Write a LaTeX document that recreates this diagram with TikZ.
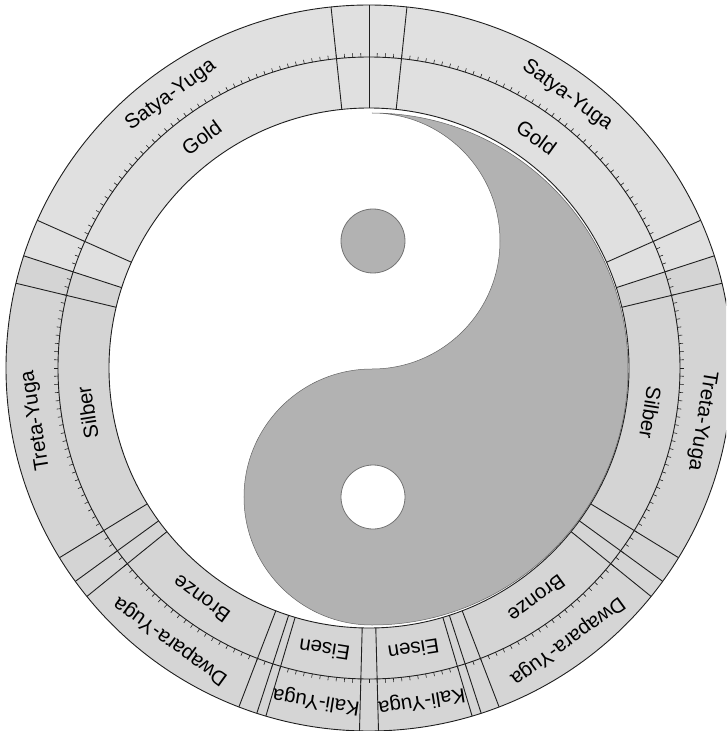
\documentclass[tikz,border=0pt]{standalone}
\usepackage{fontspec}
\setmainfont{Liberation Sans}
\usetikzlibrary{calc}
\definecolor{satya}{gray}{0.88}
\definecolor{treta}{gray}{0.83}
\definecolor{dwapara}{gray}{0.835}
\definecolor{kali}{gray}{0.835}
\definecolor{yin}{gray}{0.70}
\definecolor{ringline}{gray}{0.12}
\def\rIn{260pt}
\def\rMid{311pt}
\def\rOut{363pt}
\tikzset{
  ringedge/.style={draw=ringline, line width=0.9pt},
  tickmark/.style={draw=ringline, line width=0.6pt},
  yugalabel/.style={font=\fontsize{20.5}{21}\selectfont, inner sep=0pt, text=black},
  metallabel/.style={font=\fontsize{20.5}{21}\selectfont, inner sep=0pt, text=black},
  yinpart/.style={fill=yin, draw=black!60, line width=0.5pt},
  dotmark/.style={draw=black!55, line width=0.8pt},
}
% one coloured piece of the ring, between two polar angles
\newcommand{\ringsector}[3]{%
  \fill[#1] (#2:\rIn) arc[start angle=#2, end angle=#3, radius=\rIn]
    -- (#3:\rOut) arc[start angle=#3, end angle=#2, radius=\rOut] -- cycle;}

\begin{document}
\begin{tikzpicture}
\useasboundingbox (-369pt,-363pt) rectangle (357pt,368pt);
\clip (-369pt,-363pt) rectangle (357pt,368pt);

% ring pieces
\ringsector{satya}{18}{162}
\ringsector{treta}{-36}{18}
\ringsector{treta}{162}{216}
\ringsector{dwapara}{-72}{-36}
\ringsector{dwapara}{216}{252}
\ringsector{kali}{252}{288}

% yin-yang
\coordinate (yy) at (3pt,-1pt);
\fill[white] (yy) circle[radius=256pt];
\draw[yinpart] ($(yy)+(0,256pt)$) arc[start angle=90, end angle=-90, radius=256pt]
  arc[start angle=270, end angle=90, radius=128pt]
  arc[start angle=-90, end angle=90, radius=128pt] -- cycle;
\node[circle, dotmark, fill=yin, minimum size=64pt, inner sep=0pt] (yang dot) at ($(yy)+(1pt,128pt)$) {};
\node[circle, dotmark, fill=white, minimum size=64pt, inner sep=0pt] (yin dot) at ($(yy)+(1pt,-128pt)$) {};

% circles and ticks
\draw[ringedge] (0,0) circle[radius=\rOut];
\draw[ringedge] (0,0) circle[radius=\rMid];
\draw[ringedge] (0,0) circle[radius=\rIn];
\foreach \i in {0,...,239}
  \draw[tickmark] (\i*1.5:\rMid) -- (\i*1.5:315pt);

% borders of yugas and sandhyas
\foreach \a in {0,6,66,72,76.5,121.5,126,129,159,162,163.5,178.5} {
  \draw[ringedge] (90-\a:\rIn) -- (90-\a:\rOut);
  \draw[ringedge] (90+\a:\rIn) -- (90+\a:\rOut);
}

% labels
\foreach \off/\yuga/\metal [count=\k] in
  {36/Satya-Yuga/Gold, 99/Treta-Yuga/Silber, 144/Dwapara-Yuga/Bronze, 171/Kali-Yuga/Eisen} {
  \node[yugalabel, rotate=-\off] (yuga r\k) at (90-\off:337pt) {\yuga};
  \node[yugalabel, rotate=\off] (yuga l\k) at (90+\off:337pt) {\yuga};
  \node[metallabel, rotate=-\off] (metal r\k) at (90-\off:285pt) {\metal};
  \node[metallabel, rotate=\off] (metal l\k) at (90+\off:285pt) {\metal};
}
\end{tikzpicture}
\end{document}
